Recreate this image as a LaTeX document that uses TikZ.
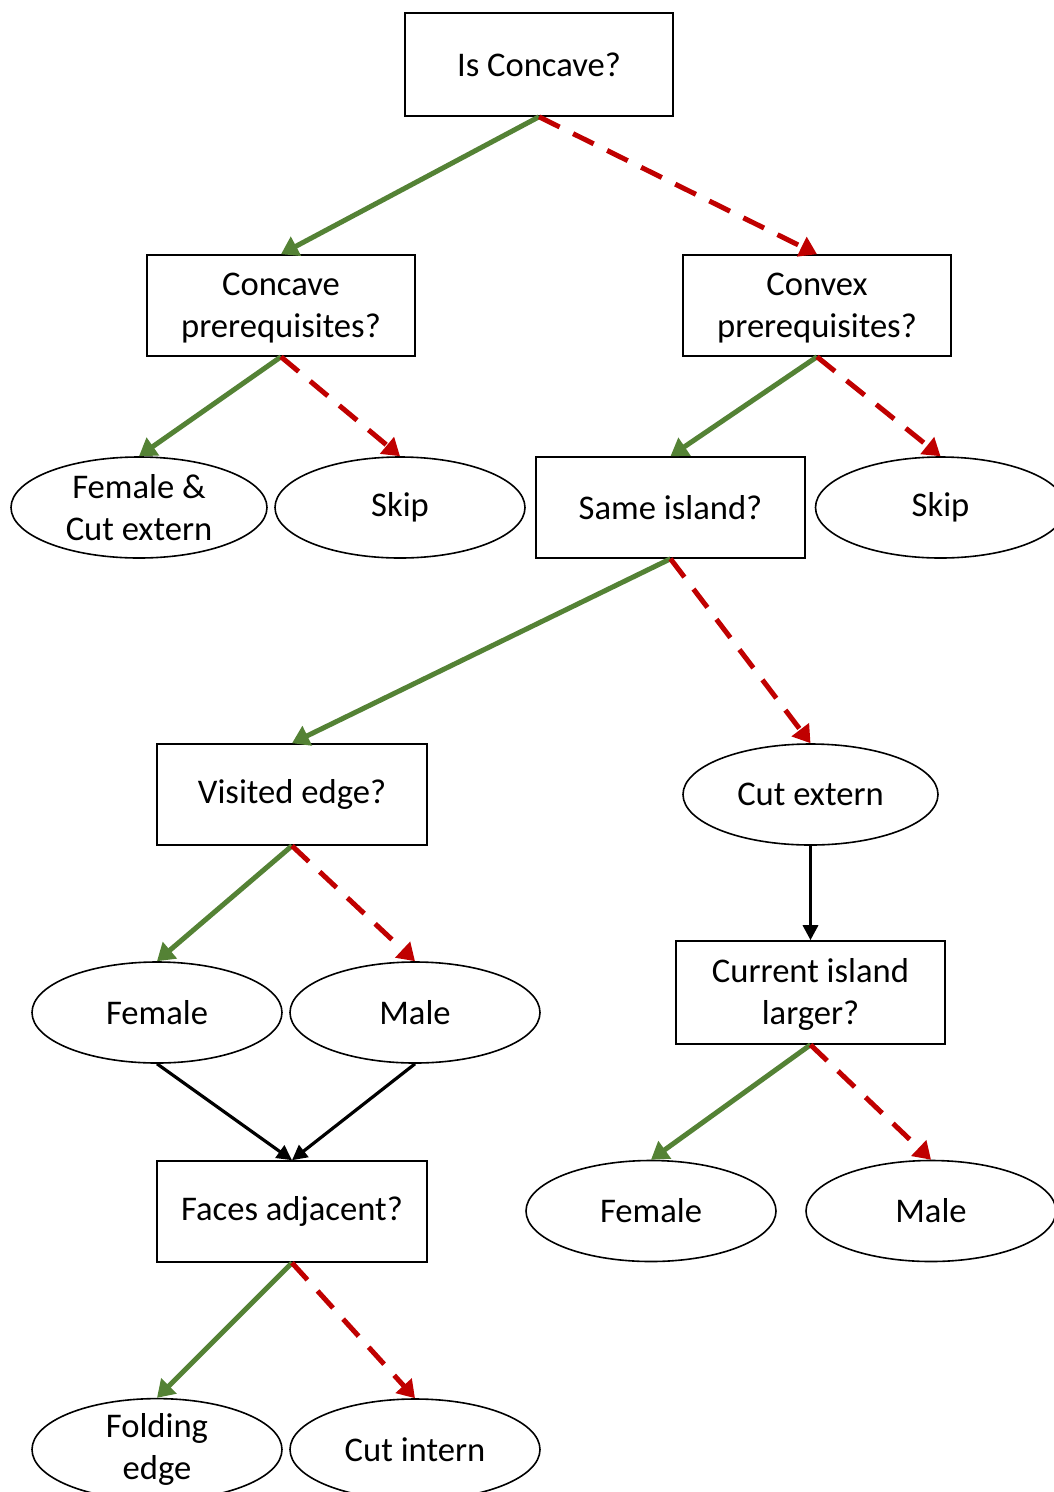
\documentclass[tikz,border=0pt]{standalone}
\usepackage{fontspec}
\setmainfont{Carlito}
\usetikzlibrary{shapes.geometric,arrows.meta}
\definecolor{yesgreen}{RGB}{84,130,53}
\definecolor{nored}{RGB}{192,0,0}
\tikzset{
  base/.style={draw=black,line width=1.6pt,inner sep=0pt,align=center,font=\fontsize{34.6}{42}\selectfont},
  qbox/.style={base,rectangle,minimum width=268pt,minimum height=101pt},
  leaf/.style={base,ellipse,minimum width=250pt,minimum height=101pt},
  yes/.style={draw=yesgreen,line width=5pt,-{Triangle[length=17pt,width=21pt]}},
  no/.style={draw=nored,line width=5pt,dash pattern=on 23pt off 15pt,-{Triangle[length=17pt,width=21pt]}},
  flow/.style={draw=black,line width=3.2pt,-{Triangle[length=15pt,width=15pt]}}
}
\begin{document}
\begin{tikzpicture}[x=1pt,y=-1pt]
\useasboundingbox (0,0) rectangle (1054,1492);
\clip (0,0) rectangle (1054,1492);
\node[qbox,minimum height=103pt] (root) at (539,64.5) {Is Concave?};
\node[qbox] (concave) at (281,305.5) {\rule{0pt}{28pt}Concave\\prerequisites?};
\node[qbox] (convex) at (817,305.5) {\rule{0pt}{28pt}Convex\\prerequisites?};
\node[leaf,minimum width=256pt] (femcut) at (139,507.5) {Female \&\\Cut extern};
\node[leaf] (skipA) at (400,507.5) {Skip};
\node[qbox,minimum width=269pt] (same) at (670.5,507.5) {Same island?};
\node[leaf] (skipB) at (940.5,507.5) {Skip};
\node[qbox,minimum width=270pt] (visited) at (292,794.5) {Visited edge?};
\node[leaf,minimum width=255pt] (cutext) at (810.5,794.5) {Cut extern};
\node[leaf] (femA) at (157,1012.5) {Female};
\node[leaf] (maleA) at (415,1012.5) {Male};
\node[qbox,minimum width=269pt,minimum height=103pt] (current) at (810.5,992.5) {\rule{0pt}{28pt}Current island\\larger?};
\node[leaf] (femB) at (651,1211) {Female};
\node[leaf] (maleB) at (931,1211) {Male};
\node[qbox,minimum width=270pt] (faces) at (292,1211.5) {Faces adjacent?};
\node[leaf] (fold) at (157,1449.5) {Folding\\edge};
\node[leaf] (cutint) at (415,1449.5) {Cut intern};

\draw[yes] (root.south) -- (concave.north);
\draw[no] (root.south) -- (convex.north);
\draw[yes] (concave.south) -- (femcut.north);
\draw[no] (concave.south) -- (skipA.north);
\draw[yes] (convex.south) -- (same.north);
\draw[no] (convex.south) -- (skipB.north);
\draw[yes] (same.south) -- (visited.north);
\draw[no] (same.south) -- (cutext.north);
\draw[flow] (cutext.south) -- (current.north);
\draw[yes] (visited.south) -- (femA.north);
\draw[no] (visited.south) -- (maleA.north);
\draw[flow] (femA.south) -- (faces.north);
\draw[flow] (maleA.south) -- (faces.north);
\draw[yes] (current.south) -- (femB.north);
\draw[no] (current.south) -- (maleB.north);
\draw[yes] (faces.south) -- (fold.north);
\draw[no] (faces.south) -- (cutint.north);
\end{tikzpicture}
\end{document}
